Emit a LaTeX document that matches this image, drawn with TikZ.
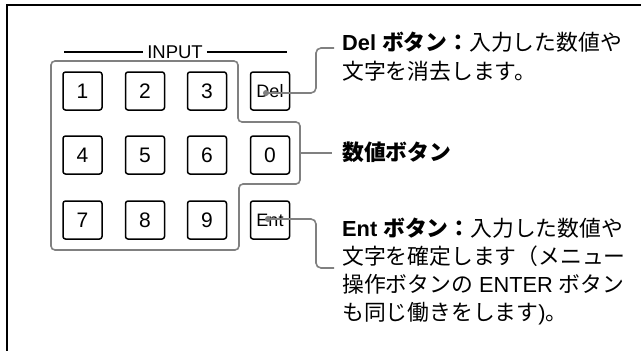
\documentclass[tikz,border=0pt]{standalone}
\usepackage{fontspec}
\setmainfont{Liberation Sans}
\newfontfamily\lat{Liberation Sans}
\newfontfamily\jp{Noto Sans CJK JP}
\begin{document}
\begin{tikzpicture}[x=1pt,y=-1pt,
  key/.style={draw, line width=1.5pt, rounded corners=2.5pt, minimum width=39pt, minimum height=38pt, inner sep=0pt, font=\fontsize{21}{21}\selectfont},
  smallkey/.style={key, font=\fontsize{18}{18}\selectfont},
  grp/.style={draw=black!50, line width=1.6pt, rounded corners=4pt},
  conn/.style={draw=black!50, line width=1.6pt, rounded corners=5pt},
  dot/.style={fill=black!50},
  lbl/.style={anchor=base west, inner sep=0pt, font=\fontsize{21.8}{21.8}\selectfont\jp},
  frame/.style={line width=2pt}]
\useasboundingbox (0,0) rectangle (641,351);
% frame
\draw[frame] (7,351) -- (7,5) -- (641,5);
% title
\node[inner sep=0pt, font=\fontsize{18.5}{18.5}\selectfont] (input) at (175,52) {INPUT};
\coordinate (inl) at (64,52);
\coordinate (inr) at (287,52);
\draw[line width=1.4pt] (inl) -- ([xshift=-4pt]input.west);
\draw[line width=1.4pt] ([xshift=4pt]input.east) -- (inr);
% keys
\node[key] (k1) at (82.5,91) {1};
\node[key] (k2) at (145,91) {2};
\node[key] (k3) at (207,91) {3};
\node[smallkey] (del) at (270,91) {Del};
\node[key] (k4) at (82.5,155) {4};
\node[key] (k5) at (145,155) {5};
\node[key] (k6) at (207,155) {6};
\node[key] (k0) at (270,155) {0};
\node[key] (k7) at (82.5,220) {7};
\node[key] (k8) at (145,220) {8};
\node[key] (k9) at (207,220) {9};
\node[smallkey] (ent) at (270,220) {Ent};
% number group outline
\draw[grp] (51,61) -- (238,61) -- (238,122) -- (300,122) -- (300,184) -- (239,184) -- (239,250) -- (51,250) -- cycle;
\coordinate (grpedge) at (300,153);
% labels
\node[lbl] (dl1) at (342,50) {{\lat\bfseries Del }{\bfseries ボタン：}入力した数値や};
\node[lbl] (dl2) at (342,79) {文字を消去します。};
\node[lbl] (nl) at (342,160.5) {\bfseries 数値ボタン};
\node[lbl] (el1) at (342,236) {{\lat\bfseries Ent }{\bfseries ボタン：}入力した数値や};
\node[lbl] (el2) at (342,264) {文字を確定します（メニュー};
\node[lbl] (el3) at (342,292) {操作ボタンの{\lat\ ENTER\ }ボタン};
\node[lbl] (el4) at (342,320) {も同じ働きをします{\lat)}。};
% connectors
\coordinate (delp) at ([shift={(-4,2)}]del.center);
\coordinate (entp) at ([shift={(-2,-1)}]ent.center);
\coordinate (delend) at (334,48);
\coordinate (entend) at (334,268);
\coordinate (numend) at (332,153);
\fill[dot] (delp) circle (3pt);
\fill[dot] (entp) circle (3pt);
\draw[conn] (delp) -| (316,48) -- (delend);
\draw[conn] (entp) -| (316,268) -- (entend);
\draw[conn] (grpedge) -- (numend);
\end{tikzpicture}
\end{document}
